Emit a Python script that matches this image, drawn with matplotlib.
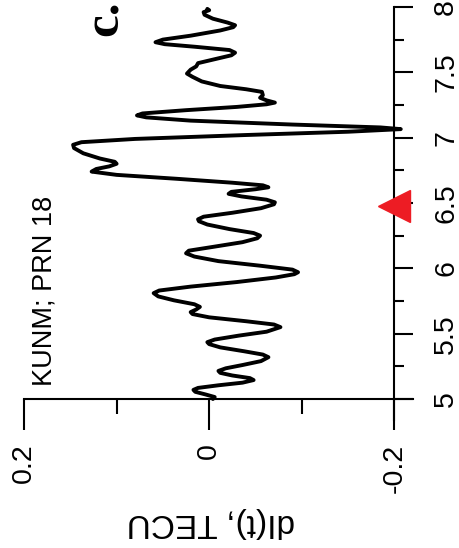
import numpy as np
import matplotlib
matplotlib.use("Agg")
from matplotlib import pyplot as plt

# time axis and dI(t) values (TECU)
time = [5.000, 5.015, 5.035, 5.055, 5.070, 5.085, 5.105, 5.125, 5.145, 5.160,
        5.180, 5.200, 5.215, 5.235, 5.260, 5.290, 5.320, 5.340, 5.365, 5.395,
        5.420, 5.435, 5.455, 5.485, 5.515, 5.550, 5.570, 5.595, 5.625, 5.650,
        5.665, 5.685, 5.705, 5.725, 5.755, 5.785, 5.810, 5.830, 5.860, 5.895,
        5.930, 5.955, 5.970, 5.990, 6.020, 6.055, 6.090, 6.115, 6.135, 6.165,
        6.200, 6.230, 6.250, 6.270, 6.300, 6.335, 6.360, 6.375, 6.395, 6.425,
        6.460, 6.490, 6.505, 6.525, 6.550, 6.570, 6.585, 6.605, 6.620, 6.635,
        6.655, 6.685, 6.715, 6.740, 6.760, 6.780, 6.800, 6.815, 6.840, 6.880,
        6.920, 6.945, 6.965, 6.990, 7.020, 7.045, 7.065, 7.078, 7.100, 7.130,
        7.155, 7.170, 7.185, 7.210, 7.235, 7.255, 7.268, 7.285, 7.305, 7.325,
        7.350, 7.370, 7.395, 7.430, 7.465, 7.490, 7.520, 7.545, 7.570, 7.600,
        7.630, 7.650, 7.670, 7.695, 7.715, 7.730, 7.750, 7.780, 7.820, 7.845,
        7.860, 7.880, 7.910, 7.940, 7.960, 7.975, 7.985]
dI = [-0.004, -0.006, 0.004, 0.015, 0.017, 0.012, -0.010, -0.036, -0.048, -0.044,
      -0.025, -0.012, -0.010, -0.018, -0.036, -0.056, -0.064, -0.058, -0.038, -0.012,
      0.000, 0.002, -0.006, -0.032, -0.062, -0.077, -0.070, -0.040, 0.000, 0.018,
      0.020, 0.014, 0.010, 0.016, 0.038, 0.055, 0.060, 0.054, 0.020, -0.030,
      -0.072, -0.092, -0.096, -0.090, -0.055, -0.010, 0.016, 0.025, 0.022, -0.005,
      -0.036, -0.052, -0.055, -0.048, -0.022, 0.002, 0.011, 0.012, 0.006, -0.025,
      -0.056, -0.070, -0.071, -0.062, -0.035, -0.021, -0.024, -0.050, -0.064, -0.058,
      -0.025, 0.035, 0.100, 0.127, 0.122, 0.108, 0.100, 0.102, 0.118, 0.136,
      0.146, 0.147, 0.138, 0.080, -0.040, -0.150, -0.207, -0.185, -0.090, 0.020,
      0.068, 0.078, 0.072, 0.025, -0.030, -0.062, -0.071, -0.062, -0.055, -0.058,
      -0.057, -0.040, -0.012, 0.008, 0.018, 0.024, 0.020, 0.014, 0.012, -0.006,
      -0.024, -0.028, -0.022, 0.015, 0.048, 0.058, 0.050, 0.020, -0.012, -0.026,
      -0.028, -0.020, -0.004, 0.005, 0.006, 0.000, 0.002]

event_time = 6.475
event_dI = -0.2

xticks = [0.2, 0, -0.2]
xticklabels = ["0.2", "0", "-0.2"]
yticks = [5, 5.5, 6, 6.5, 7, 7.5, 8]
yticklabels = ["5", "5.5", "6", "6.5", "7", "7.5", "8"]

plt.rcParams.update({"font.family": "Liberation Sans"})

fig = plt.figure(figsize=(4.6, 5.48), dpi=100)
ax = fig.add_axes([0, 0, 1, 1])
ax.patch.set_alpha(0)

ax.plot(dI, time, color="black", lw=2.8, solid_joinstyle="round", solid_capstyle="round")
ax.plot(event_dI, event_time, marker="<", ms=23, color="#ed1c24", zorder=5, clip_on=False)

ax.set_xlim(0.226, -0.271)
ax.set_ylim(3.86, 8.053)

ax.spines["top"].set_visible(False)
ax.spines["left"].set_visible(False)
ax.spines["bottom"].set_position(("data", 5))
ax.spines["bottom"].set_bounds(-0.2205, 0.2)
ax.spines["right"].set_position(("data", -0.2))
ax.spines["right"].set_bounds(4.84, 8)
for s in ["bottom", "right"]:
    ax.spines[s].set_linewidth(1.5)
ax.yaxis.tick_right()

ax.set_xticks(xticks)
ax.set_xticklabels(xticklabels)
ax.set_xticks([0.1, -0.1], minor=True)
ax.set_yticks(yticks)
ax.set_yticklabels(yticklabels)
ax.set_yticks([5.25, 5.75, 6.25, 6.75, 7.25, 7.75], minor=True)

ax.tick_params(axis="x", which="major", length=22, width=1.5, pad=10, labelsize=20.5, labelrotation=90)
ax.tick_params(axis="x", which="minor", length=11, width=1.5)
ax.tick_params(axis="y", which="major", length=14, width=1.5, pad=14, labelsize=20.5, labelrotation=90)
ax.tick_params(axis="y", which="minor", length=7, width=1.5)
for lab in ax.get_yticklabels():
    lab.set_va("center")

ax.text(0.178, 5.1, "KUNM; PRN 18", rotation=90, ha="center", va="bottom", fontsize=19.5)
ax.text(0.112, 7.915, "c.", rotation=90, ha="center", va="center", fontsize=37,
        family="Liberation Serif", weight="bold")
fig.text(0.459, 0.047, "dI(t), TECU", rotation=180, ha="center", va="center", fontsize=24)

fig.savefig("out.png", dpi=100)
